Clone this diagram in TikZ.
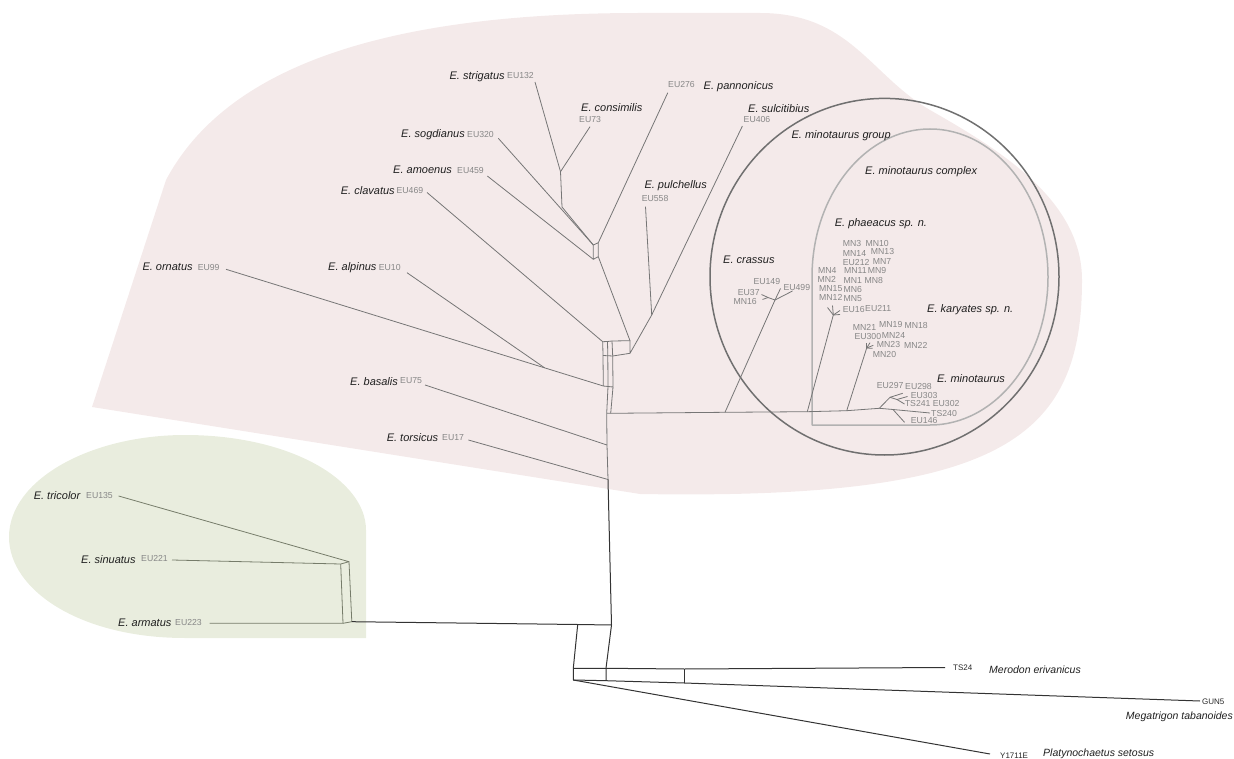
\documentclass[tikz,border=0pt]{standalone}
\usepackage{fontspec}
\setmainfont{Liberation Sans}
\usepackage{xcolor}
\usetikzlibrary{positioning}

\definecolor{pinkbg}{RGB}{244,234,234}
\definecolor{greenbg}{RGB}{233,237,222}
\definecolor{netgray}{RGB}{118,118,118}
\definecolor{codegray}{RGB}{135,135,135}
\definecolor{grpline}{RGB}{112,112,112}
\definecolor{cpxline}{RGB}{178,178,178}
\definecolor{greenline}{RGB}{118,124,106}

\tikzset{
  sp/.style={inner sep=0pt, anchor=base west, text=black!88,
    font=\fontsize{11}{13}\selectfont\itshape},
  code/.style={inner sep=0pt, anchor=west, text=codegray,
    font=\fontsize{8.7}{10}\selectfont},
  outsp/.style={inner sep=0pt, anchor=base west, text=black!88,
    font=\fontsize{10.5}{12}\selectfont\itshape},
  outcode/.style={inner sep=0pt, anchor=west, text=black!85,
    font=\fontsize{8}{10}\selectfont},
  net/.style={draw=netgray, line width=0.8pt},
  gnet/.style={draw=greenline, line width=0.8pt},
  dark/.style={draw=black!80, line width=1pt},
}

\begin{document}
\begin{tikzpicture}[x=1pt, y=-1pt, line join=round]
    \clip (0,0) rectangle (1234,759);

    % 1. Group backgrounds
    \fill[pinkbg] (92,407) -- (640,494) .. controls (1000,500) and (1082,440) .. (1082,280)
        .. controls (1082,200) and (1000,150) .. (930,110)
        .. controls (870,75) and (850,13) .. (760,13) -- (640,13)
        .. controls (400,13) and (230,60) .. (166,180) -- cycle;
    \fill[greenbg] (366,638) -- (185,638) .. controls (80,638) and (9,590) .. (9,537)
        .. controls (9,480) and (90,435) .. (185,435)
        .. controls (290,435) and (366,480) .. (366,530) -- cycle;

    % 2. Group outlines
    \draw[grpline, line width=1.5pt] (884.5,276.7) ellipse [x radius=174.5, y radius=178.3];
    \draw[cpxline, line width=1.5pt] (812,425) -- (812,277)
        arc [start angle=180, end angle=450, x radius=118, y radius=148] -- cycle;

    % 3. Species and specimen labels
    \node[sp] (strigatus) at (449.4,80) {E. strigatus};
    \node[code] (EU132) at (507,76) {EU132};
    \node[sp] (consimilis) at (581,111.3) {E. consimilis};
    \node[code] (EU73) at (579,119.3) {EU73};
    \node[sp] (sogdianus) at (401,137.7) {E. sogdianus};
    \node[code] (EU320) at (467,135) {EU320};
    \node[sp] (amoenus) at (393,174) {E. amoenus};
    \node[code] (EU459) at (457,171) {EU459};
    \node[sp] (clavatus) at (340.7,195) {E. clavatus};
    \node[code] (EU469) at (396.4,191) {EU469};
    \node[sp] (ornatus) at (142.3,270.7) {E. ornatus};
    \node[code] (EU99) at (197.6,267.3) {EU99};
    \node[sp] (alpinus) at (328,270.7) {E. alpinus};
    \node[code] (EU10) at (378.7,267.3) {EU10};
    \node[sp] (basalis) at (350,385) {E. basalis};
    \node[code] (EU75) at (400,381) {EU75};
    \node[sp] (torsicus) at (386.6,441.3) {E. torsicus};
    \node[code] (EU17) at (442,437.7) {EU17};
    \node[sp] (pannonicus) at (703.5,89.3) {E. pannonicus};
    \node[code] (EU276) at (668,85) {EU276};
    \node[sp] (sulcitibius) at (748,112.3) {E. sulcitibius};
    \node[code] (EU406) at (743.5,119.3) {EU406};
    \node[sp] (pulchellus) at (644.3,189) {E. pulchellus};
    \node[code] (EU558) at (641.6,198.7) {EU558};
    \node[sp] (mgroup) at (791.4,138.3) {E. minotaurus group};
    \node[sp] (mcomplex) at (865,174.7) {E. minotaurus complex};
    \node[sp] (phaeacus) at (834.6,226.7) {E. phaeacus sp. n.};
    \node[sp] (crassus) at (723,263.3) {E. crassus};
    \node[sp] (karyates) at (927,312.3) {E. karyates sp. n.};
    \node[sp] (minotaurus) at (936.9,382.3) {E. minotaurus};
    \node[sp] (tricolor) at (33.6,499.7) {E. tricolor};
    \node[code] (EU135) at (86,495.7) {EU135};
    \node[sp] (sinuatus) at (81,563) {E. sinuatus};
    \node[code] (EU221) at (141,559) {EU221};
    \node[sp] (armatus) at (118,626.3) {E. armatus};
    \node[code] (EU223) at (175,622.3) {EU223};

    \foreach \t/\x/\y in {MN3/842.7/243.3, MN10/865.3/243.3, MN14/842.7/253.3, MN13/870.7/251.7,
        EU212/842.7/262.7, MN7/872.7/262, MN11/844/271, MN9/867.7/271, MN1/843.3/280.3,
        MN8/864.3/280.3, MN4/818/270.3, MN2/817.3/279, MN15/819/288.3, MN6/843.3/289.7,
        MN12/819/297.3, MN5/843.3/299, EU16/842.7/309.3, EU211/865/308.3,
        MN21/852.7/327.7, MN19/879/325, MN18/904.3/326, EU300/854.3/337, MN24/881.7/335.7,
        MN23/876.7/345, MN22/904/345, MN20/872.7/354.3,
        EU149/753.3/282, EU499/783.3/287.3, EU37/737.7/292.3, MN16/733.3/302,
        EU297/876.7/385.7, EU298/905/386.7, EU303/910.7/395.7, TS241/904.7/403.3,
        EU302/932.7/404, TS240/931/413.3, EU146/910.7/421}
        \node[code] (\t) at (\x,\y) {\t};

    % 4. Outgroup labels
    \node[outcode] (TS24) at (953,668) {TS24};
    \node[outsp] (merodon) at (989,673) {Merodon erivanicus};
    \node[outcode] (GUN5) at (1202,702) {GUN5};
    \node[outsp, anchor=base east] (megatrigon) at (1233,719) {Megatrigon tabanoides};
    \node[outcode] (Y1711E) at (1000,755.5) {Y1711E};
    \node[outsp] (platy) at (1043,756) {Platynochaetus setosus};

    % 5. Network points: leaf ends and splits
    \coordinate (lStr) at (535,82);
    \coordinate (lCon) at (590,126.7);
    \coordinate (lSog) at (498.3,138.3);
    \coordinate (lAmo) at (487.3,176);
    \coordinate (lCla) at (427,192.5);
    \coordinate (lOrn) at (226,269.3);
    \coordinate (lAlp) at (407,272.7);
    \coordinate (lBas) at (425,385);
    \coordinate (lTor) at (468.4,440);
    \coordinate (lPan) at (667.8,92.7);
    \coordinate (lSul) at (742.4,126);
    \coordinate (lPul) at (645.5,206.7);
    \coordinate (jSC) at (560.5,171.7);
    \coordinate (jSC2) at (562,207);
    \coordinate (bx1) at (593.3,245);
    \coordinate (bx2) at (598.3,242.7);
    \coordinate (bx3) at (598.3,256.7);
    \coordinate (bx4) at (593.3,259.3);
    \coordinate (jAl) at (544.7,367.9);
    \coordinate (a1) at (602.7,341.7);
    \coordinate (b1) at (607.5,341.5);
    \coordinate (c1) at (612,341);
    \coordinate (a2) at (603,355.5);
    \coordinate (b2) at (607.8,355.8);
    \coordinate (c2) at (612.7,356);
    \coordinate (a3) at (603.3,386);
    \coordinate (b3) at (608,386.5);
    \coordinate (c3) at (613,387);
    \coordinate (d) at (606.7,413.3);
    \coordinate (e) at (610.7,413.3);
    \coordinate (r1) at (630,340.7);
    \coordinate (r2) at (630,353.3);
    \coordinate (q) at (651.7,315);
    \coordinate (s1) at (607,445);
    \coordinate (s2) at (608,479.5);
    \coordinate (s3) at (611.5,625);

    % 6. Main group edges
    \draw[net] (lStr) -- (jSC) -- (jSC2) -- (bx1);
    \draw[net] (lCon) -- (jSC);
    \draw[net] (lSog) -- (bx1);
    \draw[net] (bx1) -- (bx2) -- (bx3) -- (bx4) -- cycle;
    \draw[net] (lAmo) -- (bx4);
    \draw[net] (lPan) -- (bx2);
    \draw[net] (bx3) -- (r1) -- (r2) -- (q) -- (lSul);
    \draw[net] (lPul) -- (q);
    \draw[net] (r1) -- (c1) -- (b1) -- (a1);
    \draw[net] (r2) -- (c2) -- (a2);
    \draw[net] (a1) -- (a2) -- (a3) -- (b3) -- (c3) -- (c2) -- (c1);
    \draw[net] (b1) -- (b2) -- (b3) -- (d) -- (e) -- (c3);
    \draw[net] (lCla) -- (a1);
    \draw[net] (lOrn) -- (a3);
    \draw[net] (lAlp) -- (jAl);
    \draw[net] (d) -- (s1) -- (s2);
    \draw[net] (lBas) -- (s1);
    \draw[net] (lTor) -- (s2);
    \draw[dark] (s2) -- (s3);

    % 7. E. minotaurus group edges
    \coordinate (cr0) at (725,412.3);
    \coordinate (ph0) at (807.3,411.7);
    \coordinate (ka0) at (846.7,410.7);
    \coordinate (mi0) at (879.3,408.3);
    \coordinate (mi3) at (893,409.5);
    \coordinate (lTS240) at (930,413);
    \coordinate (cr1) at (775,300);
    \coordinate (cr2) at (768,297.5);
    \coordinate (ph1) at (833.3,315);
    \coordinate (ka1) at (866.7,348);
    \coordinate (mi1) at (890,397.3);
    \coordinate (mi2) at (897,399.5);
    \draw[net] (e) -- (cr0) -- (ph0) -- (ka0) -- (mi0) -- (mi3) -- (lTS240);
    \draw[net] (cr0) -- (cr1) -- (cr2);
    \draw[net] (ph0) -- (ph1);
    \draw[net] (ka0) -- (ka1);
    \draw[net] (mi0) -- (mi1) -- (mi2);
    \foreach \n/\j/\x/\y in {t149/cr1/780.5/288.5, t499/cr1/792.5/291, t37/cr2/761.5/294.5,
        t16/cr2/762.5/299.5, p1/ph1/827.5/307.5, p2/ph1/832.5/305.5, p3/ph1/840/310.5,
        p4/ph1/840/314.5, k1/ka1/866.7/342.5, k2/ka1/870/342.7, k3/ka1/873.3/345.3,
        k4/ka1/872.7/348.3, t298/mi1/902.7/393.3, t303/mi2/907.5/396.5,
        t241/mi2/904.5/404, t146/mi3/904.5/422.3}
    {
        \coordinate (\n) at (\x,\y);
        \draw[net] (\j) -- (\n);
    }

    % 8. Green group and outgroups
    \coordinate (lTri) at (118.6,496);
    \coordinate (lSin) at (172,560);
    \coordinate (lArm) at (209.5,623.3);
    \coordinate (g1) at (340.7,564);
    \coordinate (g2) at (349,561.7);
    \coordinate (g3) at (351.8,621.7);
    \coordinate (g4) at (343,623.3);
    \draw[gnet] (lTri) -- (g2) -- (g1) -- (lSin);
    \draw[gnet] (g1) -- (g4) -- (lArm);
    \draw[gnet] (g2) -- (g3) -- (g4);

    \coordinate (o0) at (577.7,624.5);
    \coordinate (o1) at (573.3,668.3);
    \coordinate (o2) at (606,668.3);
    \coordinate (o3) at (684.3,669);
    \coordinate (o4) at (573.3,680);
    \coordinate (o5) at (606,680.7);
    \coordinate (o6) at (684.3,683);
    \coordinate (lTS) at (945,667.5);
    \coordinate (lGUN) at (1200,701);
    \coordinate (lY) at (990,754);
    \draw[dark] (g3) -- (o0) -- (s3);
    \draw[dark] (o0) -- (o1) -- (o4);
    \draw[dark] (s3) -- (o2) -- (o5);
    \draw[dark] (o1) -- (o2) -- (o3) -- (lTS);
    \draw[dark] (o4) -- (o5) -- (o6) -- (lGUN);
    \draw[dark] (o3) -- (o6);
    \draw[dark] (o4) -- (lY);
\end{tikzpicture}
\end{document}
